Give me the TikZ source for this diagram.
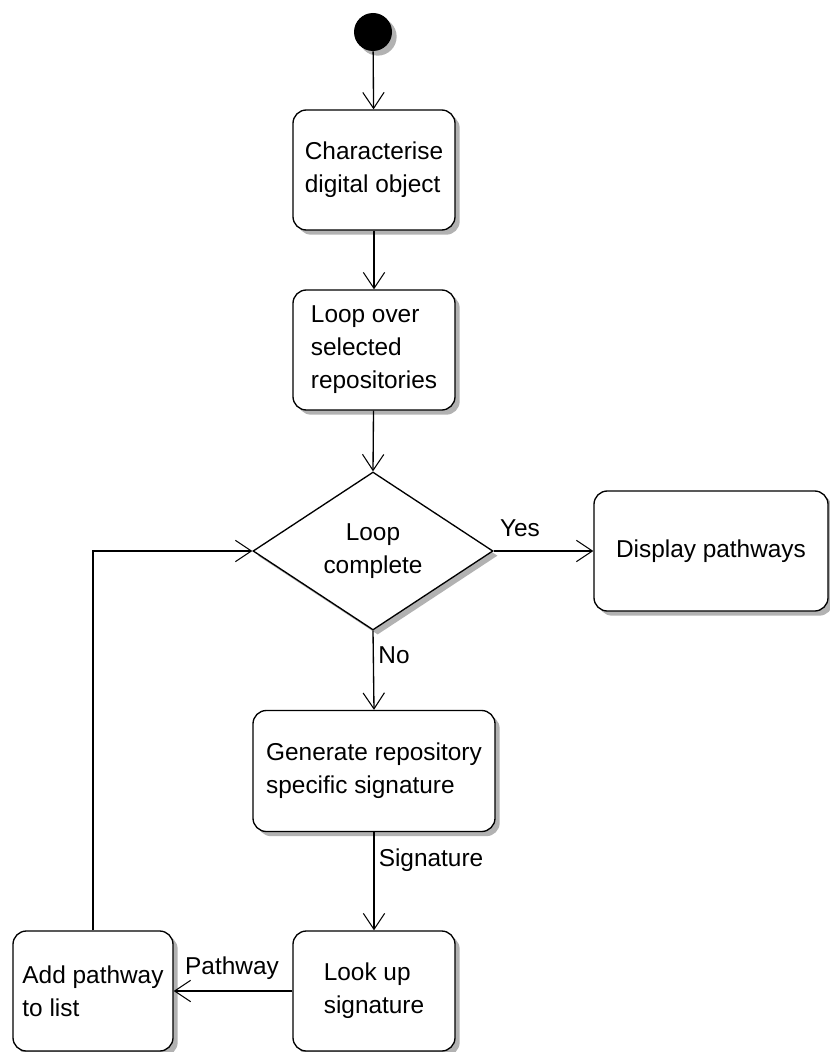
\documentclass[tikz,border=0pt]{standalone}
\usepackage{fontspec}
\setmainfont{Liberation Sans}
\usetikzlibrary{shapes.geometric,shadows,arrows.meta}
\begin{document}
\begin{tikzpicture}[x=0.75pt,y=-0.75pt,
  font=\fontsize{18.3pt}{24.75pt}\selectfont,
  shad/.style={drop shadow={shadow xshift=3.5pt,shadow yshift=-3.5pt,fill=black!30,opacity=1}},
  act/.style={draw,line width=1pt,fill=white,rounded corners=10pt,align=left,inner sep=0pt,shad},
  dec/.style={draw,line width=1pt,fill=white,diamond,align=center,inner sep=0pt,shad},
  arr/.style={line width=1pt,-{Straight Barb[length=12pt,width=16pt,line width=0.8pt]}},
  lbl/.style={inner sep=0pt}
]
\useasboundingbox (0,0) rectangle (829,1052);
\node[circle,fill=black,minimum size=28.5pt,inner sep=0pt,shad] (start) at (373,32) {};
\node[act,minimum width=121.5pt,minimum height=90pt] (char) at (374,170) {Characterise\\digital object};
\node[act,minimum width=121.5pt,minimum height=90pt] (loop) at (374,350) {Loop over\\selected\\repositories};
\node[dec,minimum width=180pt,minimum height=118.5pt] (cond) at (373,551) {Loop\\complete};
\node[act,minimum width=175.5pt,minimum height=90pt] (disp) at (711,551) {Display pathways};
\node[act,minimum width=181.5pt,minimum height=90.75pt] (gen) at (374,771) {Generate repository\\specific signature};
\node[act,minimum width=121.5pt,minimum height=90pt] (look) at (374,991) {Look up\\signature};
\node[act,minimum width=120pt,minimum height=90pt] (add) at (93,991) {Add pathway\\to list};

\draw[arr] (start) -- (char);
\draw[arr] (char) -- (loop);
\draw[arr] (loop) -- (cond.north);
\draw[arr] (cond.east) -- (disp.west);
\draw[arr] (cond.south) -- (gen.north);
\draw[arr] (gen) -- (look);
\draw[arr] (look.west) -- (add.east);
\draw[arr] (add.north) |- (cond.west);

\node[lbl] (yes) at (520,528) {Yes};
\node[lbl] (no) at (394,655) {No};
\node[lbl] (sig) at (431,860) {Signature};
\node[lbl] (path) at (232,968) {Pathway};
\end{tikzpicture}
\end{document}
